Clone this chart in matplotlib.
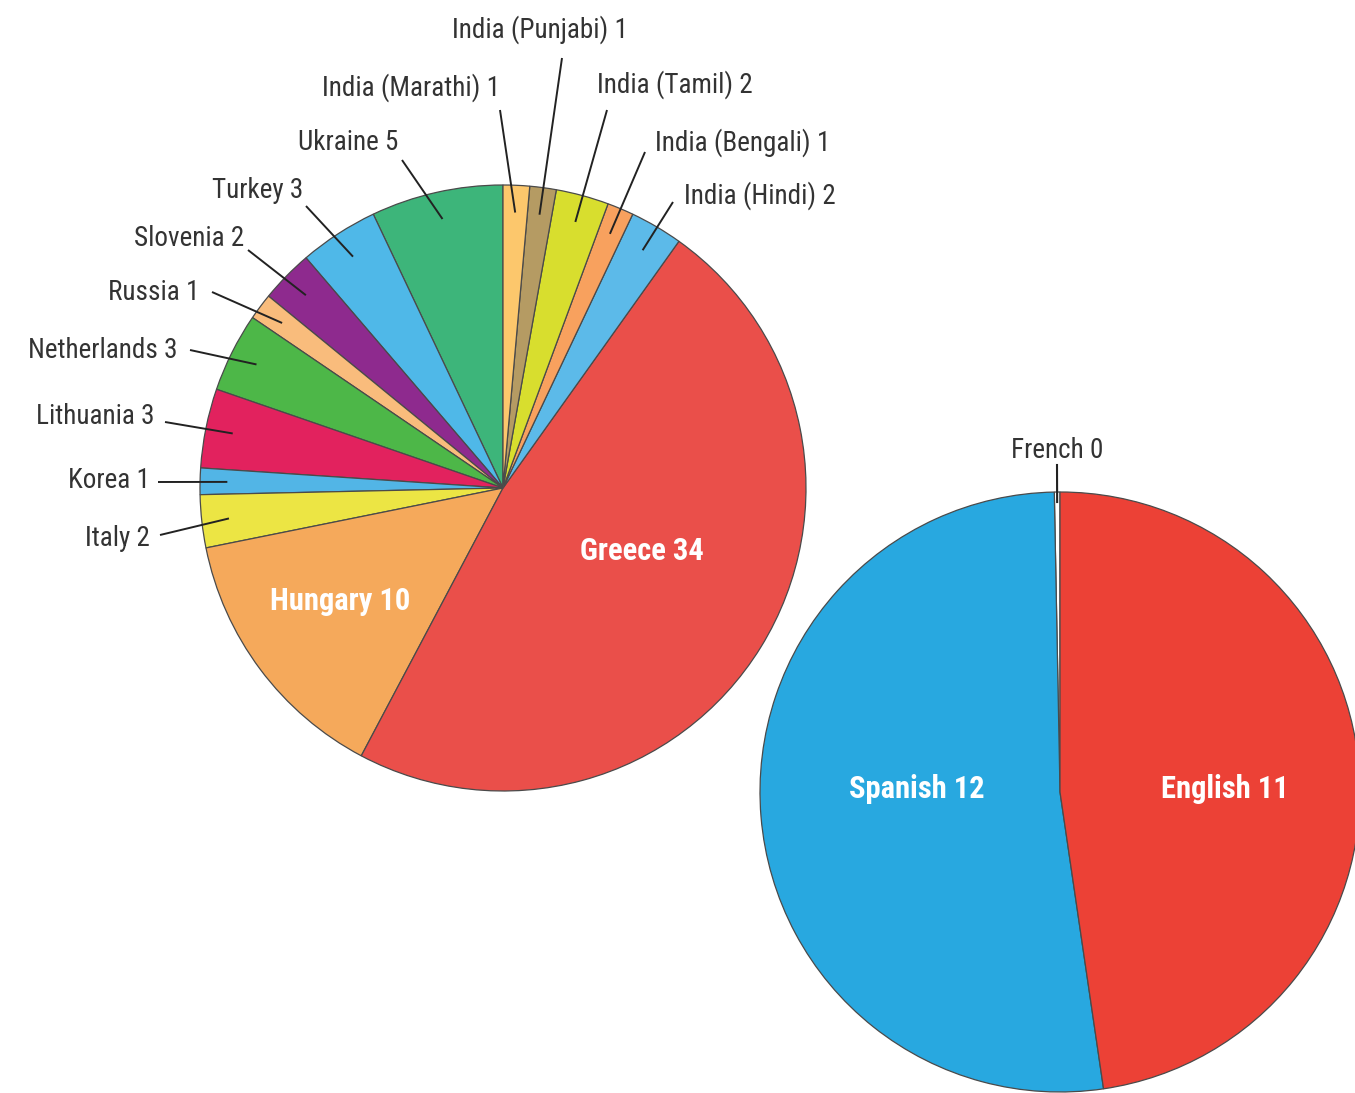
import numpy as np
import matplotlib
matplotlib.use("Agg")
from matplotlib import pyplot as plt
from matplotlib import font_manager

# left pie: countries
countries = ["Ukraine", "Turkey", "Slovenia", "Russia", "Netherlands", "Lithuania",
             "Korea", "Italy", "Hungary", "Greece", "India (Hindi)", "India (Bengali)",
             "India (Tamil)", "India (Punjabi)", "India (Marathi)"]
country_counts = [5, 3, 2, 1, 3, 3, 1, 2, 10, 34, 2, 1, 2, 1, 1]
country_colors = ["#3DB57A", "#4FB8E8", "#8E2A8E", "#F9BC7C", "#4DB748", "#E2225E",
                  "#52B5E6", "#ECE544", "#F5A95B", "#EA4F4A", "#5CBAE9", "#F8A15E",
                  "#D8DE2E", "#B59B63", "#FCC76C"]

# right pie: languages
languages = ["French", "Spanish", "English"]
language_counts = [0, 12, 11]
language_colors = ["#FFFFFF", "#28A8E0", "#EC4136"]

W, H = 1355, 1093

# narrow font if one is around
names = {f.name for f in font_manager.fontManager.ttflist}
fam = "DejaVu Sans"
for cand in ["Roboto Condensed", "Fira Sans Condensed", "Encode Sans Condensed",
             "Sofia Sans Condensed", "Open Sans Condensed", "Archivo Narrow",
             "PT Sans Narrow", "Liberation Sans Narrow"]:
    if cand in names:
        fam = cand
        break
plt.rcParams["font.family"] = [fam, "DejaVu Sans"]
small = 19.5 if fam != "DejaVu Sans" else 16
big = 22 if fam != "DejaVu Sans" else 18

fig = plt.figure(figsize=(W / 100, H / 100), dpi=100)
ax = fig.add_axes([0, 0, 1, 1])

# pie geometry in pixel coords (y flipped)
c1 = (503, H - 488)
r1 = 303
c2 = (1060, H - 792)
r2 = 300

wedges1, _ = ax.pie(country_counts, colors=country_colors, startangle=90, counterclock=True,
                    center=c1, radius=r1, frame=True,
                    wedgeprops=dict(edgecolor="#4a4a4a", linewidth=0.9))

# French is zero, drawn as a hairline sliver
shown = np.maximum(np.array(language_counts, dtype=float), 0.07)
wedges2, _ = ax.pie(shown, colors=language_colors, startangle=90, counterclock=True,
                    center=c2, radius=r2, frame=True,
                    wedgeprops=dict(edgecolor="#4a4a4a", linewidth=0.9))
ax.set_xlim(0, W)
ax.set_ylim(0, H)
ax.set_aspect("equal")
ax.axis("off")

# callout labels: (text anchor x, y in image px, ha, line start x, y in image px)
callouts = {
    "Ukraine":          (398, 142, "right", 402, 160),
    "Turkey":           (303, 190, "right", 306, 206),
    "Slovenia":         (244, 238, "right", 248, 250),
    "Russia":           (200, 292, "right", 212, 292),
    "Netherlands":      (178, 350, "right", 190, 350),
    "Lithuania":        (155, 417, "right", 165, 422),
    "Korea":            (150, 480, "right", 158, 482),
    "Italy":            (150, 538, "right", 160, 535),
    "India (Hindi)":    (684, 196, "left", 673, 202),
    "India (Bengali)":  (655, 143, "left", 645, 152),
    "India (Tamil)":    (597, 85, "left", 607, 110),
    "India (Punjabi)":  (540, 30, "center", 562, 58),
    "India (Marathi)":  (411, 88, "center", 500, 110),
}

for name, n, w in zip(countries, country_counts, wedges1):
    mid = np.deg2rad((w.theta1 + w.theta2) / 2)
    if name in callouts:
        tx, ty, ha, lx, ly = callouts[name]
        ex = c1[0] + 0.91 * r1 * np.cos(mid)
        ey = c1[1] + 0.91 * r1 * np.sin(mid)
        ax.plot([lx, ex], [H - ly, ey], color="#222222", lw=1.4, solid_capstyle="butt")
        ax.text(tx, H - ty, f"{name} {n}", ha=ha, va="center", fontsize=small, color="#333333")

# big labels inside
ax.text(340, H - 601, f"Hungary {country_counts[8]}", ha="center", va="center",
        fontsize=big, fontweight="bold", color="white")
ax.text(642, H - 551, f"Greece {country_counts[9]}", ha="center", va="center",
        fontsize=big, fontweight="bold", color="white")

# right pie labels
ax.text(917, H - 789, f"Spanish {language_counts[1]}", ha="center", va="center",
        fontsize=big, fontweight="bold", color="white")
ax.text(1225, H - 789, f"English {language_counts[2]}", ha="center", va="center",
        fontsize=big, fontweight="bold", color="white")
wf = wedges2[0]
midf = np.deg2rad((wf.theta1 + wf.theta2) / 2)
ax.plot([1057, c2[0] + r2 * np.cos(midf)], [H - 465, c2[1] + r2 * np.sin(midf) - 10],
        color="#222222", lw=1.5)
ax.text(1057, H - 450, f"French {language_counts[0]}", ha="center", va="center",
        fontsize=small, color="#333333")

fig.savefig("out.png", dpi=100, facecolor="white")
